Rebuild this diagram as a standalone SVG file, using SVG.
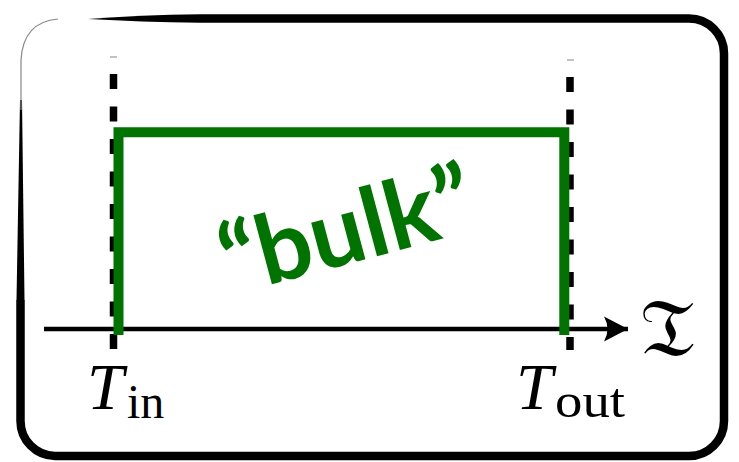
<svg xmlns="http://www.w3.org/2000/svg" width="739" height="462" viewBox="0 0 739 462">
<style>
.dash{stroke:#000;stroke-width:7.5;stroke-dasharray:15 17.5;fill:none}
.tick{stroke:#999;stroke-width:1.2}
.green{stroke:#007300;stroke-width:10;fill:none;stroke-linejoin:miter}
.lbl{font-family:"Liberation Serif",serif;fill:#000}
</style>
<defs>
<marker id="arr" viewBox="0 0 26 26" refX="24" refY="13" markerWidth="26" markerHeight="26" markerUnits="userSpaceOnUse" orient="auto">
<path d="M24,13 L0,0.5 Q7,13 0,25.5 Z" fill="#000"/>
</marker>
</defs>
<rect width="739" height="462" fill="#fff"/>
<g id="frame">
<path d="M88,19 Q140,15 200,14.2 L200,22.8 Q140,22 88,19 Z" fill="#000"/>
<path d="M200,18.5 H689 A35,35 0 0 1 724,53.5 V421 A35,35 0 0 1 689,456 H55 A35,35 0 0 1 20.5,421 V300" fill="none" stroke="#000" stroke-width="8.5"/>
<path d="M16.5,300 L20,100 L22,100 L24.5,300 Z" fill="#000"/>
<path d="M21,110 V60 Q23,22 58,19" fill="none" stroke="#888" stroke-width="1.2"/>
</g>
<g id="connectors">
<line id="axis" x1="44" y1="329" x2="628" y2="329" stroke="#000" stroke-width="4.5" marker-end="url(#arr)"/>
<line class="tick" x1="110" y1="57" x2="117" y2="57"/>
<line class="dash" x1="113.5" y1="74" x2="113.5" y2="349"/>
<line class="tick" x1="567" y1="60" x2="574" y2="60"/>
<line class="dash" x1="570" y1="77" x2="570" y2="350"/>
</g>
<g id="bulk">
<path class="green" d="M118.5,335 V132.3 H564.3 V335"/>
<text transform="translate(355,262) rotate(-15)" text-anchor="middle" font-family="Lato,'Open Sans',sans-serif" font-weight="bold" font-size="96" fill="#007300">“bulk”</text>
</g>
<g id="t-in">
<text class="lbl" x="87" y="409" font-size="66" font-style="italic">T</text>
<text class="lbl" x="127" y="418" font-size="48">in</text>
</g>
<g id="t-out">
<text class="lbl" x="516" y="409" font-size="66" font-style="italic">T</text>
<text class="lbl" x="555" y="417" font-size="48" textLength="70" lengthAdjust="spacingAndGlyphs">out</text>
</g>
<g id="tau">
<text class="lbl" x="640" y="356" font-size="82" font-family="'DejaVu Serif',serif">𝔗</text>
</g>
</svg>
